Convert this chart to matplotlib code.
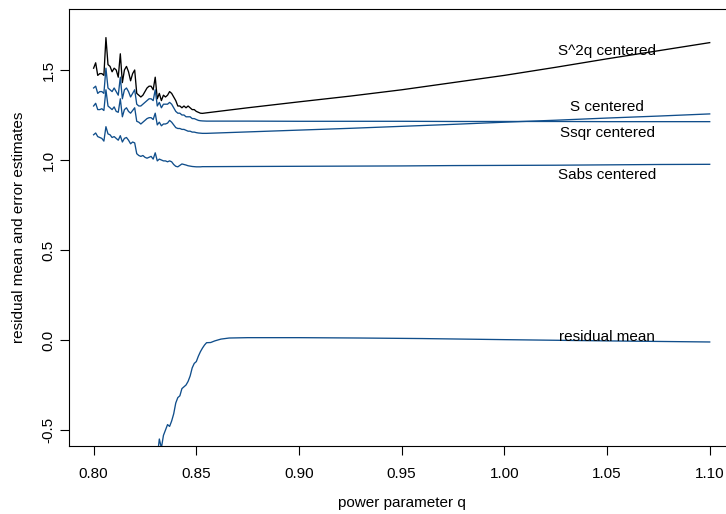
import numpy as np
import matplotlib
matplotlib.use("Agg")
import matplotlib.pyplot as plt

plt.rcParams['font.family'] = ['Liberation Sans', 'DejaVu Sans']

# power parameter grid where the estimates are noisy (step 0.001)
q_noisy = np.round(np.arange(0.800, 0.8535, 0.001), 3)
# coarser points where the curves are smooth
q_smooth = [0.855, 0.875, 0.90, 0.925, 0.95, 0.975, 1.00, 1.025, 1.05, 1.075, 1.10]

s2q_noisy = [1.51, 1.54, 1.47, 1.48, 1.48, 1.47, 1.68, 1.53, 1.52, 1.49,
             1.51, 1.50, 1.46, 1.59, 1.43, 1.50, 1.52, 1.49, 1.44, 1.48,
             1.50, 1.37, 1.36, 1.35, 1.36, 1.38, 1.40, 1.41, 1.41, 1.39,
             1.46, 1.34, 1.37, 1.33, 1.36, 1.35, 1.36, 1.38, 1.37, 1.35,
             1.33, 1.30, 1.30, 1.29, 1.30, 1.29, 1.30, 1.29, 1.28, 1.28,
             1.27, 1.265, 1.26, 1.259]
s2q_smooth = [1.262, 1.290, 1.323, 1.355, 1.390, 1.430, 1.470, 1.515, 1.562, 1.607, 1.652]

s_noisy = [1.40, 1.41, 1.37, 1.38, 1.38, 1.37, 1.51, 1.40, 1.39, 1.38,
           1.40, 1.38, 1.36, 1.46, 1.34, 1.39, 1.40, 1.38, 1.35, 1.37,
           1.39, 1.31, 1.30, 1.30, 1.31, 1.32, 1.33, 1.34, 1.34, 1.33,
           1.39, 1.30, 1.32, 1.29, 1.31, 1.31, 1.31, 1.32, 1.31, 1.29,
           1.27, 1.26, 1.26, 1.25, 1.25, 1.24, 1.24, 1.24, 1.23, 1.23,
           1.225, 1.22, 1.218, 1.217]
s_smooth = [1.216, 1.216, 1.215, 1.215, 1.215, 1.214, 1.214, 1.214, 1.213, 1.213, 1.213]

ssqr_noisy = [1.30, 1.315, 1.28, 1.28, 1.285, 1.275, 1.39, 1.30, 1.29, 1.28,
              1.295, 1.27, 1.265, 1.34, 1.24, 1.28, 1.29, 1.27, 1.26, 1.275,
              1.29, 1.215, 1.21, 1.20, 1.21, 1.22, 1.23, 1.235, 1.235, 1.225,
              1.26, 1.195, 1.21, 1.19, 1.20, 1.20, 1.205, 1.22, 1.21, 1.195,
              1.18, 1.175, 1.175, 1.17, 1.17, 1.165, 1.16, 1.16, 1.155, 1.155,
              1.152, 1.15, 1.149, 1.148]
ssqr_smooth = [1.148, 1.156, 1.166, 1.176, 1.187, 1.198, 1.210, 1.221, 1.233, 1.244, 1.256]

sabs_noisy = [1.14, 1.15, 1.13, 1.125, 1.12, 1.105, 1.185, 1.145, 1.14, 1.125,
              1.13, 1.12, 1.11, 1.135, 1.10, 1.12, 1.125, 1.11, 1.09, 1.10,
              1.095, 1.035, 1.025, 1.02, 1.025, 1.015, 1.01, 1.015, 1.02, 1.005,
              1.04, 0.995, 1.005, 1.00, 0.995, 0.995, 0.99, 0.995, 0.99, 0.975,
              0.965, 0.962, 0.97, 0.978, 0.975, 0.972, 0.968, 0.966, 0.964, 0.963,
              0.962, 0.962, 0.962, 0.963]
sabs_smooth = [0.963, 0.964, 0.965, 0.966, 0.967, 0.969, 0.970, 0.971, 0.973, 0.975, 0.976]

# residual mean only shows up inside the plot region from about q = 0.832
q_resid = [0.830, 0.831, 0.832, 0.833, 0.834, 0.835, 0.836, 0.837, 0.838, 0.839,
           0.840, 0.841, 0.842, 0.843, 0.844, 0.845, 0.846, 0.847, 0.848, 0.849,
           0.850, 0.851, 0.852, 0.853, 0.854, 0.855, 0.857, 0.859, 0.862, 0.866,
           0.875, 0.90, 0.93, 0.96, 1.00, 1.05, 1.10]
resid = [-0.75, -0.65, -0.55, -0.60, -0.53, -0.50, -0.47, -0.48, -0.45, -0.41,
         -0.35, -0.32, -0.31, -0.27, -0.26, -0.25, -0.23, -0.20, -0.155, -0.13,
         -0.12, -0.09, -0.065, -0.045, -0.028, -0.015, -0.014, -0.005, 0.005, 0.011,
         0.013, 0.013, 0.011, 0.008, 0.002, -0.005, -0.011]

labels = ["S^2q centered", "S centered", "Ssqr centered", "Sabs centered", "residual mean"]
label_y = [1.605, 1.292, 1.150, 0.917, 0.019]

blue = '#104E8B'

fig = plt.figure(figsize=(7.26, 5.14), dpi=100)
ax = fig.add_axes([0.0950, 0.1319, 0.9165, 0.851])

q_all = list(q_noisy) + q_smooth
ax.plot(q_all, s2q_noisy + s2q_smooth, color='black', lw=0.95)
ax.plot(q_all, s_noisy + s_smooth, color=blue, lw=0.95)
ax.plot(q_all, ssqr_noisy + ssqr_smooth, color=blue, lw=0.95)
ax.plot(q_all, sabs_noisy + sabs_smooth, color=blue, lw=0.95)
ax.plot(q_resid, resid, color=blue, lw=0.95)

for txt, yv in zip(labels, label_y):
    ax.text(1.05, yv, txt, ha='center', va='center', fontsize=11)

ax.set_xlim(0.788, 1.112)
ax.set_ylim(-0.59, 1.84)
ax.set_xticks([0.80, 0.85, 0.90, 0.95, 1.00, 1.05, 1.10])
ax.set_xticklabels(["0.80", "0.85", "0.90", "0.95", "1.00", "1.05", "1.10"])
ax.set_yticks([-0.5, 0.0, 0.5, 1.0, 1.5])
ax.set_yticklabels(["-0.5", "0.0", "0.5", "1.0", "1.5"], rotation=90, va='center')
ax.tick_params(axis='both', length=6.7, width=0.8, labelsize=11, color='black')
ax.tick_params(axis='x', pad=8.5)
ax.tick_params(axis='y', pad=3)
for sp in ax.spines.values():
    sp.set_linewidth(0.8)

ax.set_xlabel("power parameter q", fontsize=11)
ax.set_ylabel("residual mean and error estimates", fontsize=11)
ax.xaxis.set_label_coords(0.5, -0.114)
ax.yaxis.set_label_coords(-0.064, 0.5)

fig.savefig("out.png", dpi=100)
